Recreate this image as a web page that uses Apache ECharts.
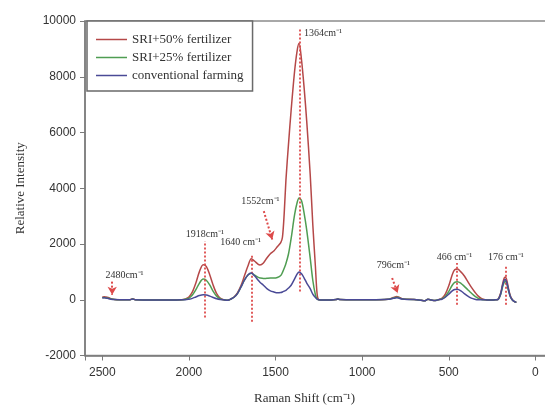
<!DOCTYPE html>
<html>
<head>
<meta charset="utf-8">
<script src="https://cdn.jsdelivr.net/npm/echarts@6/dist/echarts.min.js"></script>
<style>
html,body{margin:0;padding:0;background:#fff;}
#chart{width:545px;height:411px;}
</style>
</head>
<body>
<div id="chart"></div>
<script>
// Raman shift (cm-1)
const shift = [
  2500, 2490, 2470, 2450, 2430, 2400, 2340, 2325, 2310, 2200,
  2100, 2040, 2020, 2000, 1980, 1960, 1940, 1918, 1900, 1880,
  1860, 1840, 1820, 1800, 1780, 1770, 1760, 1740, 1720, 1700,
  1680, 1660, 1640, 1620, 1600, 1590, 1570, 1550, 1530, 1510,
  1490, 1470, 1460, 1450, 1440, 1425, 1410, 1390, 1375, 1364,
  1350, 1335, 1320, 1300, 1285, 1270, 1260, 1250, 1230, 1200,
  1150, 1140, 1130, 1050, 950, 850, 820, 800, 790, 770,
  740, 700, 660, 640, 620, 600, 580, 560, 540, 520,
  500, 480, 466, 450, 430, 410, 390, 370, 350, 330,
  310, 290, 270, 250, 230, 215, 200, 190, 180, 173,
  165, 155, 145, 135, 125, 115, 110
];
const sri50 = [
  90, 110, 90, 40, 10, 0, 0, 40, 0, -10,
  -10, 0, 30, 100, 280, 600, 1000, 1260, 1200, 900,
  520, 220, 60, 0, -20, -10, 20, 100, 250, 500,
  850, 1200, 1470, 1380, 1270, 1250, 1320, 1500, 1650, 1750,
  1900, 2050, 2250, 3100, 4300, 5600, 6800, 8200, 8950, 9200,
  8600, 7600, 6400, 4500, 2700, 1200, 200, 0, -10, -10,
  10, 30, 10, 0, 0, 20, 80, 120, 100, 40,
  20, 10, -20, -40, 20, -10, -30, 0, 50, 200,
  500, 900, 1080, 1100, 1000, 850, 650, 450, 280, 130,
  40, 0, -10, -10, 0, 20, 250, 550, 780, 820,
  700, 400, 150, 20, -50, -80, -70
];
const sri25 = [
  70, 80, 60, 30, 10, 0, 0, 30, 0, -10,
  -10, 0, 20, 60, 170, 360, 590, 740, 700, 530,
  300, 130, 35, 0, -20, -10, 20, 90, 220, 450,
  700, 880, 950, 880, 800, 780, 760, 770, 780, 780,
  800, 870, 980, 1130, 1300, 1650, 2200, 3050, 3500, 3650,
  3550, 3100, 2500, 1500, 700, 180, 20, 0, -10, -10,
  10, 25, 10, 0, 0, 15, 60, 90, 80, 30,
  15, 10, -20, -40, 15, -10, -30, 0, 30, 120,
  300, 520, 620, 650, 590, 480, 360, 240, 130, 50,
  10, 0, -10, -10, 0, 15, 200, 450, 620, 660,
  560, 320, 120, 10, -50, -80, -70
];
const conventional = [
  60, 70, 50, 20, 5, 0, 0, 30, 0, -10,
  -10, 0, 0, 20, 50, 100, 150, 180, 170, 130,
  80, 35, 10, 0, -15, -10, 20, 90, 220, 450,
  700, 890, 960, 850, 700, 630, 520, 400, 320, 280,
  250, 260, 280, 310, 340, 420, 520, 750, 930, 1000,
  930, 780, 600, 400, 200, 80, 20, 0, -10, -10,
  10, 25, 10, 0, 0, 15, 50, 70, 60, 25,
  10, 10, -20, -40, 15, -10, -30, 0, 20, 90,
  200, 320, 370, 380, 320, 220, 130, 60, 20, 0,
  0, 0, -10, -10, 0, 15, 220, 500, 700, 730,
  620, 350, 120, 10, -50, -80, -70
];
const seriesNames = ['SRI+50% fertilizer', 'SRI+25% fertilizer', 'conventional farming'];

// Peak markers: dotted vertical lines
const peakX = [1908, 1639, 1360, 452, 173];
const peakTop = [2100, 1620, 9700, 1320, 1260];
const peakBottom = [-640, -790, 300, -180, -180];
// Arrows: start and end points
const arrowFromX = [2443, 1568, 827];
const arrowFromY = [650, 3180, 780];
const arrowToX = [2443, 1519, 795];
const arrowToY = [180, 2160, 240];
// Annotation texts
const noteText = ['2480cm⁻¹', '1918cm⁻¹', '1640 cm⁻¹', '1552cm⁻¹', '1364cm⁻¹', '796cm⁻¹', '466 cm⁻¹', '176 cm⁻¹'];
const noteX = [2372, 1908, 1702, 1587, 1345, 820, 467, 170];
const noteY = [865, 2340, 2050, 3540, 9550, 1225, 1525, 1525];
const noteLeftAligned = [false, false, false, false, true, false, false, false];

const xTicks = { min: -500, max: 2600, interval: 500 };
const yTicks = { min: -2000, max: 10000, interval: 2000 };

const colors = ['#b54848', '#4f9d52', '#4a4a96'];
const serif = '"Liberation Serif", "Times New Roman", serif';
const sans = '"Liberation Sans", Arial, sans-serif';
const markRed = '#dd4a4a';

const chart = echarts.init(document.getElementById('chart'), null, { renderer: 'canvas' });

function pairs(vals) { return shift.map((x, i) => [x, vals[i]]); }

const option = {
  animation: false,
  color: colors,
  grid: {
    left: 85, top: 21, width: 537, height: 334.5,
    outerBoundsMode: 'none', containLabel: false,
    show: true, borderColor: '#8c8c8c', borderWidth: 1.5, backgroundColor: 'transparent'
  },
  legend: {
    data: seriesNames.map(n => ({ name: n, icon: 'rect' })),
    orient: 'vertical',
    left: 87, top: 21,
    itemWidth: 31, itemHeight: 1.5, itemGap: 5,
    padding: [12, 9, 9, 9],
    borderColor: '#6a6a6a', borderWidth: 1.5,
    backgroundColor: '#fff',
    textStyle: { fontFamily: serif, fontSize: 13, lineHeight: 12, color: '#333' }
  },
  xAxis: {
    type: 'value', inverse: true,
    min: xTicks.min, max: xTicks.max, interval: xTicks.interval,
    name: 'Raman Shift (cm⁻¹)', nameLocation: 'middle', nameGap: 37,
    nameTextStyle: { fontFamily: serif, fontSize: 13, color: '#333', padding: [0, 98, 0, 0] },
    axisLine: { show: true, onZero: false, lineStyle: { color: '#7a7a7a', width: 1.5 } },
    axisTick: { show: true, inside: false, length: 5, lineStyle: { color: '#7a7a7a' } },
    axisLabel: {
      margin: 11, fontFamily: sans, fontSize: 12, color: '#333',
      formatter: v => (v > 2500 || v < 0) ? '' : String(v)
    },
    splitLine: { show: false }
  },
  yAxis: {
    type: 'value',
    min: yTicks.min, max: yTicks.max, interval: yTicks.interval,
    name: 'Relative Intensity', nameLocation: 'middle', nameGap: 58,
    nameTextStyle: { fontFamily: serif, fontSize: 13, color: '#333' },
    axisLine: { show: true, onZero: false, lineStyle: { color: '#7a7a7a', width: 1.5 } },
    axisTick: { show: true, inside: false, length: 5, lineStyle: { color: '#7a7a7a' } },
    axisLabel: { margin: 9, fontFamily: sans, fontSize: 12, color: '#333', formatter: v => String(v) },
    splitLine: { show: false }
  },
  series: [
    {
      name: seriesNames[0], type: 'line', data: pairs(sri50), symbol: 'none', smooth: 0.3,
      lineStyle: { width: 1.5, color: colors[0] }, itemStyle: { color: colors[0] }, z: 3
    },
    {
      name: seriesNames[1], type: 'line', data: pairs(sri25), symbol: 'none', smooth: 0.3,
      lineStyle: { width: 1.5, color: colors[1] }, itemStyle: { color: colors[1] }, z: 4
    },
    {
      name: seriesNames[2], type: 'line', data: pairs(conventional), symbol: 'none', smooth: 0.3,
      lineStyle: { width: 1.5, color: colors[2] }, itemStyle: { color: colors[2] }, z: 5
    },
    {
      type: 'line', data: [], silent: true, z: 6,
      markLine: {
        silent: true, animation: false,
        symbol: ['none', 'none'],
        label: { show: false },
        lineStyle: { color: markRed, type: [2, 2], width: 2, opacity: 0.9 },
        emphasis: { disabled: true },
        data: peakX.map((x, i) => [{ coord: [x, peakBottom[i]] }, { coord: [x, peakTop[i]] }])
      }
    },
    {
      type: 'line', data: [], silent: true, z: 6,
      markLine: {
        silent: true, animation: false,
        symbol: ['none', 'arrow'], symbolSize: [7, 8],
        label: { show: false },
        lineStyle: { color: markRed, type: [2, 2], width: 2 },
        itemStyle: { color: markRed },
        emphasis: { disabled: true },
        data: arrowFromX.map((x, i) => [{ coord: [x, arrowFromY[i]] }, { coord: [arrowToX[i], arrowToY[i]] }])
      }
    },
    {
      type: 'line', data: [], silent: true, z: 7,
      markPoint: {
        silent: true, animation: false,
        symbol: 'circle', symbolSize: 1,
        itemStyle: { color: 'rgba(0,0,0,0)' },
        data: noteText.map((t, i) => ({
          coord: [noteX[i], noteY[i]],
          label: {
            show: true, formatter: t,
            position: noteLeftAligned[i] ? 'right' : 'inside',
            distance: 1,
            fontFamily: serif, fontSize: 10, color: '#333'
          }
        }))
      }
    }
  ]
};
chart.setOption(option);
</script>
</body>
</html>
